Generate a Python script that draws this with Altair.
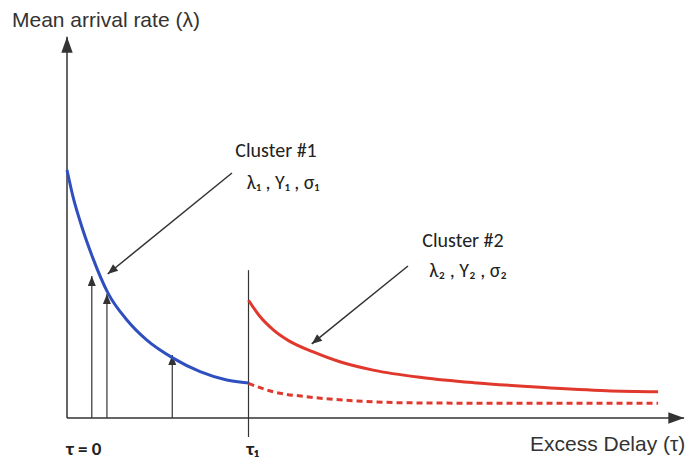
import math
import altair as alt
import pandas as pd

# ---- conceptual axes: excess delay tau (0..10) and mean arrival rate lambda (0..10)
TAU_MAX = 10.0
LAM_MAX = 10.0
PLOT_W, PLOT_H = 605, 380
PX_PER_TAU = PLOT_W / TAU_MAX
PX_PER_LAM = PLOT_H / LAM_MAX

# Cluster #1 decay (blue), from tau = 0 to tau_1
c1_tau = [0.0, 0.10, 0.21, 0.42, 0.68, 0.99, 1.32, 1.76, 2.20, 2.64, 3.0]
c1_lam = [6.53, 5.82, 5.21, 4.24, 3.28, 2.58, 2.05, 1.57, 1.22, 1.00, 0.92]

# Cluster #2 decay (red), starting at tau_1
c2_tau = [3.0, 3.19, 3.41, 3.69, 4.07, 4.51, 5.06, 5.89, 6.72, 7.82, 8.92, 9.77]
c2_lam = [3.10, 2.67, 2.32, 2.01, 1.74, 1.48, 1.26, 1.06, 0.93, 0.81, 0.72, 0.69]

# Continuation of cluster #1 beyond tau_1 (dashed red)
c1x_tau = [3.0, 3.41, 3.96, 4.79, 5.61, 6.72, 9.77]
c1x_lam = [0.91, 0.69, 0.56, 0.45, 0.40, 0.39, 0.39]

# Individual ray arrivals (vertical arrows)
ray_tau = [0.41, 0.66, 1.74]
ray_lam = [3.74, 3.26, 1.66]

# tau_1 marker line
tau1 = 3.0
tau1_top = 3.89
tick_bottom = -0.5

# Annotation arrows: label side -> curve side
ann_start_tau = [2.727, 5.636]
ann_start_lam = [6.447, 4.00]
ann_tip_tau = [0.672, 4.045]
ann_tip_lam = [3.79, 1.95]

# Axis arrow tips
x_axis_end = 10.2
y_axis_end = 10.03

# Text labels
title_y = "Mean arrival rate (λ)"
title_x = "Excess Delay (τ)"
cluster_names = ["Cluster #1", "Cluster #2"]
cluster_params = ["λ₁ , Υ₁ , σ₁", "λ₂ , Υ₂ , σ₂"]
cluster_name_pos = [(3.455, 6.87), (6.545, 4.50)]
cluster_param_pos = [(3.57, 6.02), (6.63, 3.70)]
tick_labels = ["τ = 0", "τ₁"]
tick_label_pos = [(0.28, -0.98), (3.07, -0.98)]

xs = alt.Scale(domain=[0, TAU_MAX], nice=False, zero=False)
ys = alt.Scale(domain=[0, LAM_MAX], nice=False, zero=False)
X = lambda f: alt.X(f, type="quantitative", scale=xs, axis=None)
Y = lambda f: alt.Y(f, type="quantitative", scale=ys, axis=None)

INK = "#333333"
BLUE = "#2f4fbf"
RED = "#e0382c"

def arrow_angle(t0, l0, t1, l1):
    dx = (t1 - t0) * PX_PER_TAU
    dy = -(l1 - l0) * PX_PER_LAM
    return math.degrees(math.atan2(dx, -dy)) % 360

HEAD = "M0,0L-0.4,1L0.4,1Z"

# ---- curves
curve_c1 = pd.DataFrame({"tau": c1_tau, "lam": c1_lam})
curve_c2 = pd.DataFrame({"tau": c2_tau, "lam": c2_lam})
curve_c1x = pd.DataFrame({"tau": c1x_tau, "lam": c1x_lam})

blue = alt.Chart(curve_c1).mark_line(color=BLUE, strokeWidth=3, interpolate="monotone").encode(
    x=X("tau"), y=Y("lam"))
red = alt.Chart(curve_c2).mark_line(color=RED, strokeWidth=3, interpolate="monotone").encode(
    x=X("tau"), y=Y("lam"))
dashed = alt.Chart(curve_c1x).mark_line(color=RED, strokeWidth=3, strokeDash=[6, 4],
                                        interpolate="monotone").encode(x=X("tau"), y=Y("lam"))

# ---- axes with arrowheads
axes_df = pd.DataFrame({
    "t0": [0, 0], "l0": [0, 0],
    "t1": [x_axis_end, 0], "l1": [0, y_axis_end],
})
axes = alt.Chart(axes_df).mark_rule(color=INK, strokeWidth=1.5).encode(
    x=X("t0"), y=Y("l0"), x2="t1", y2="l1")
axis_heads_df = pd.DataFrame({
    "tau": [x_axis_end, 0], "lam": [0, y_axis_end],
    "ang": [arrow_angle(0, 0, x_axis_end, 0), arrow_angle(0, 0, 0, y_axis_end)],
})
axis_heads = alt.Chart(axis_heads_df).mark_point(
    shape="M0,0L-0.36,1L0.36,1Z", filled=True, color=INK, opacity=1, size=1000, strokeWidth=0
).encode(x=X("tau"), y=Y("lam"), angle=alt.Angle("ang:Q", scale=None))

# ---- ray arrivals
rays_df = pd.DataFrame({"tau": ray_tau, "lam": ray_lam, "zero": [0] * len(ray_tau)})
rays = alt.Chart(rays_df).mark_rule(color=INK, strokeWidth=1.2).encode(
    x=X("tau"), y=Y("zero"), y2="lam")
ray_heads = alt.Chart(rays_df).mark_point(
    shape=HEAD, filled=True, color=INK, opacity=1, size=400, strokeWidth=0
).encode(x=X("tau"), y=Y("lam"))

# ---- tau_1 marker
tau1_df = pd.DataFrame({"tau": [tau1], "lo": [tick_bottom], "hi": [tau1_top]})
tau1_rule = alt.Chart(tau1_df).mark_rule(color=INK, strokeWidth=1.2).encode(
    x=X("tau"), y=Y("lo"), y2="hi")

# ---- annotation arrows
ann_df = pd.DataFrame({
    "t0": ann_start_tau, "l0": ann_start_lam, "t1": ann_tip_tau, "l1": ann_tip_lam,
})
ann_df["ang"] = [arrow_angle(a, b, c, d) for a, b, c, d in
                 zip(ann_start_tau, ann_start_lam, ann_tip_tau, ann_tip_lam)]
ann_lines = alt.Chart(ann_df).mark_rule(color=INK, strokeWidth=1.5).encode(
    x=X("t0"), y=Y("l0"), x2="t1", y2="l1")
ann_heads = alt.Chart(ann_df).mark_point(
    shape=HEAD, filled=True, color=INK, opacity=1, size=420, strokeWidth=0
).encode(x=X("t1"), y=Y("l1"), angle=alt.Angle("ang:Q", scale=None))

# ---- text
titles_df = pd.DataFrame({
    "txt": [title_y, title_x],
    "tau": [-0.909, 7.653],
    "lam": [10.29, -0.88],
})
titles = alt.Chart(titles_df).mark_text(
    font="Liberation Sans", fontSize=21, color=INK, align="left", baseline="alphabetic"
).encode(x=X("tau"), y=Y("lam"), text="txt:N")

names_df = pd.DataFrame({
    "txt": cluster_names + cluster_params,
    "tau": [p[0] for p in cluster_name_pos] + [p[0] for p in cluster_param_pos],
    "lam": [p[1] for p in cluster_name_pos] + [p[1] for p in cluster_param_pos],
})
names = alt.Chart(names_df).mark_text(
    font="Carlito, Lato, DejaVu Sans", fontSize=20, color="#222222", align="center",
    baseline="alphabetic"
).encode(x=X("tau"), y=Y("lam"), text="txt:N")

ticks_df = pd.DataFrame({
    "txt": tick_labels,
    "tau": [p[0] for p in tick_label_pos],
    "lam": [p[1] for p in tick_label_pos],
})
tick_text = alt.Chart(ticks_df).mark_text(
    font="Carlito, Lato, DejaVu Sans", fontSize=19, fontWeight="bold", color="#222222",
    align="center", baseline="alphabetic"
).encode(x=X("tau"), y=Y("lam"), text="txt:N")

chart = alt.layer(
    axes, axis_heads, tau1_rule, rays, ray_heads, dashed, blue, red,
    ann_lines, ann_heads, titles, names, tick_text,
).properties(
    width=PLOT_W, height=PLOT_H,
    autosize=alt.AutoSizeParams(type="none"),
    padding={"left": 67, "top": 38, "right": 17, "bottom": 45},
    background="white",
).configure_view(stroke=None)

chart.save("out.html", embed_options={"renderer": "svg", "actions": False})
